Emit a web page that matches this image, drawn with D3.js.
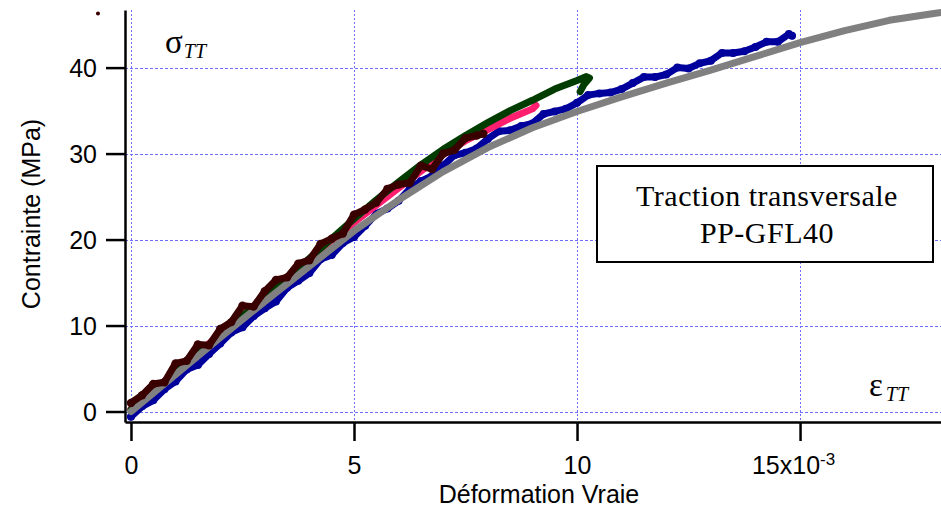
<!DOCTYPE html>
<html><head><meta charset="utf-8">
<script src="https://cdn.jsdelivr.net/npm/d3@7"></script>
<style>
html,body{margin:0;padding:0;background:#fff;}
svg{display:block;}
</style></head>
<body>
<svg id="chart" width="941" height="512"></svg>
<script>
// ---- data (strain in 1e-3, stress in MPa) ----
const xTicks = [0, 5, 10, 15];
const yTicks = [0, 10, 20, 30, 40];
const xTickLabels = ["0", "5", "10", "15x10"];

const grayStrain  = [0,1,2,3,4,5,6,7,8,9,10,11,12,13,14,15,16,17,18,18.3];
const grayStress  = [0,4.3,8.6,12.8,16.9,21.0,24.6,27.9,30.7,33.0,34.9,36.6,38.2,39.7,41.3,42.9,44.3,45.5,46.3,46.5];

const blueStrain = [0,0.25,0.5,0.75,1,1.25,1.5,1.75,2,2.25,2.5,2.75,3,3.25,3.5,3.75,4,4.25,4.5,4.75,5,5.25,5.5,5.75,6,6.25,6.5,6.75,7,7.25,7.5,7.75,8,8.25,8.5,8.75,9,9.25,9.5,9.75,10,10.25,10.5,10.75,11,11.25,11.5,11.75,12,12.25,12.5,12.75,13,13.25,13.5,13.75,14,14.25,14.5,14.75,14.82];
const blueStress = [-0.6,0.6,1.3,2.6,3.5,4.9,5.4,6.7,7.9,9.2,9.8,11.1,12.0,12.8,14.4,15.2,16.1,17.7,18.2,19.6,20.3,21.6,23.0,23.6,24.5,25.9,26.8,27.4,28.6,29.8,30.1,30.6,31.7,32.6,32.7,33.2,33.5,34.6,34.9,35.2,35.9,36.8,37.0,37.1,37.5,38.2,38.9,38.9,39.2,40.0,39.9,40.5,40.8,41.7,41.7,41.9,42.4,43.0,43.0,43.9,43.7];

const greenStrain = [0,0.5,1,1.5,2,2.5,3,3.5,4,4.5,5,5.5,6,6.5,7,7.5,8,8.5,9,9.5,10,10.2,10.28,10.15,10.07];
const greenStress = [0.2,2.3,4.5,6.7,8.9,11.1,13.3,15.5,17.8,20.1,22.4,24.6,26.7,28.7,30.5,32.1,33.6,35.0,36.2,37.5,38.5,38.95,38.8,38.0,37.2];

const pinkStrain = [0,1,2,3,4,5,6,7,7.5,8,8.5,9,9.08];
const pinkStress = [0.3,4.6,9.0,13.3,17.6,22.0,26.0,29.9,31.5,32.8,34.1,35.2,35.6];

const maroonStrain = [0,0.25,0.5,0.75,1,1.25,1.5,1.75,2,2.25,2.5,2.75,3,3.25,3.5,3.75,4,4.25,4.5,4.75,5,5.25,5.5,5.75,6,6.25,6.5,6.75,7,7.25,7.5,7.75,7.9];
const maroonStress = [1.0,1.9,3.2,3.4,5.6,5.9,7.8,7.7,9.6,10.4,12.3,12.2,14.0,15.3,15.6,17.2,17.6,19.5,20.1,20.7,22.9,23.5,24.3,25.9,26.4,26.6,28.6,28.2,30.0,30.4,31.8,32.1,32.3];

const strayStrain = [-0.74];
const strayStress = [46.3];

const seriesColors = {gray:"#808080", blue:"#00009c", green:"#003c00", pink:"#ff1f6e", maroon:"#3a0000"};

// ---- layout ----
const svg = d3.select("#chart");
const x = d3.scaleLinear().domain([-0.134, 18.16]).range([125, 941]);
const y = d3.scaleLinear().domain([-1.22, 46.7]).range([422, 10]);

svg.append("defs").append("clipPath").attr("id","clip")
  .append("rect").attr("x",125).attr("y",0).attr("width",816).attr("height",422);

// grid
const gridColor = "#6f6fff";
const grid = svg.append("g").attr("shape-rendering","crispEdges");
grid.selectAll("line.gx").data(xTicks).join("line")
  .attr("x1", d=>Math.round(x(d))+0.5).attr("x2", d=>Math.round(x(d))+0.5).attr("y1", 10).attr("y2", 422)
  .attr("stroke",gridColor).attr("stroke-width",1).attr("stroke-dasharray","2,2");
grid.selectAll("line.gy").data(yTicks).join("line")
  .attr("x1", 125).attr("x2", 941).attr("y1", d=>Math.round(y(d))+0.5).attr("y2", d=>Math.round(y(d))+0.5)
  .attr("stroke",gridColor).attr("stroke-width",1).attr("stroke-dasharray","3,2");

// series
const plot = svg.append("g").attr("clip-path","url(#clip)");
const line = d3.line().x(d=>x(d[0])).y(d=>y(d[1])).curve(d3.curveLinear);
function zip(a,b){return a.map((v,i)=>[v,b[i]]);}
function drawSeries(sx, sy, color, w, dotR){
  const pts = zip(sx, sy);
  plot.append("path").datum(pts).attr("d", line).attr("fill","none")
    .attr("stroke", color).attr("stroke-width", w)
    .attr("stroke-linejoin","round").attr("stroke-linecap","round");
  if (dotR) {
    plot.append("g").selectAll("circle").data(pts).join("circle")
      .attr("cx", d=>x(d[0])).attr("cy", d=>y(d[1])).attr("r", dotR).attr("fill", color);
  }
}
drawSeries(blueStrain, blueStress, seriesColors.blue, 7, 4);
drawSeries(pinkStrain, pinkStress, seriesColors.pink, 7, 0);
drawSeries(greenStrain, greenStress, seriesColors.green, 7, 0);
drawSeries(grayStrain, grayStress, seriesColors.gray, 7, 0);
drawSeries(maroonStrain, maroonStress, seriesColors.maroon, 7, 4.2);

// stray marker
svg.selectAll("circle.stray").data(zip(strayStrain, strayStress)).join("circle")
  .attr("cx", d=>x(d[0])).attr("cy", d=>y(d[1])).attr("r", 2).attr("fill", seriesColors.maroon);

// axes
const fontSans = "'Liberation Sans', Arial, sans-serif";
const yAxis = svg.append("g").attr("transform","translate(125,0)")
  .call(d3.axisLeft(y).tickValues(yTicks).tickSize(19).tickSizeOuter(0).tickPadding(9).tickFormat(d3.format("d")));
const xAxis = svg.append("g").attr("transform","translate(0,422)")
  .call(d3.axisBottom(x).tickValues(xTicks).tickSize(19).tickSizeOuter(0).tickPadding(15).tickFormat((d,i)=>xTickLabels[i]));
[yAxis, xAxis].forEach(a=>{
  a.selectAll("path.domain").attr("stroke","#000").attr("stroke-width",2.5);
  a.selectAll(".tick line").attr("stroke","#000").attr("stroke-width",2.5);
  a.selectAll(".tick text").attr("fill","#000").style("font-family", fontSans).style("font-size","25px");
});
yAxis.selectAll(".tick text").attr("dy","0.36em");
// superscript on last x tick
xAxis.selectAll(".tick text").filter((d,i)=>i===xTicks.length-1)
  .attr("dx", -7)
  .append("tspan").attr("dy","-0.5em").style("font-size","17px").text("-3");

// axis titles
svg.append("text").attr("x", 539).attr("y", 503).attr("text-anchor","middle")
  .style("font-family", fontSans).style("font-size","25px").text("Déformation Vraie");
svg.append("text").attr("transform","translate(40,214) rotate(-90)").attr("text-anchor","middle")
  .style("font-family", fontSans).style("font-size","25px").text("Contrainte (MPa)");

// symbol labels
const fontSerif = "'Liberation Serif', 'Times New Roman', serif";
const sig = svg.append("text").attr("x",165).attr("y",53).style("font-family",fontSerif).style("font-size","33px");
sig.append("tspan").text("σ");
sig.append("tspan").attr("dy","5").attr("dx","1").style("font-size","20px").style("font-style","italic").text("TT");
const eps = svg.append("text").attr("x",869).attr("y",396).style("font-family",fontSerif).style("font-size","33px");
eps.append("tspan").text("ε");
eps.append("tspan").attr("dy","5").attr("dx","3").style("font-size","20px").style("font-style","italic").text("TT");

// annotation box
svg.append("rect").attr("x",597).attr("y",166).attr("width",336).attr("height",96)
  .attr("fill","#fff").attr("stroke","#000").attr("stroke-width",2);
svg.append("text").attr("x",767).attr("y",206).attr("text-anchor","middle")
  .style("font-family",fontSerif).style("font-size","30px").style("letter-spacing","0.5px").text("Traction transversale");
svg.append("text").attr("x",767).attr("y",243).attr("text-anchor","middle")
  .style("font-family",fontSerif).style("font-size","30px").style("letter-spacing","0.5px").text("PP-GFL40");
</script>
</body></html>
